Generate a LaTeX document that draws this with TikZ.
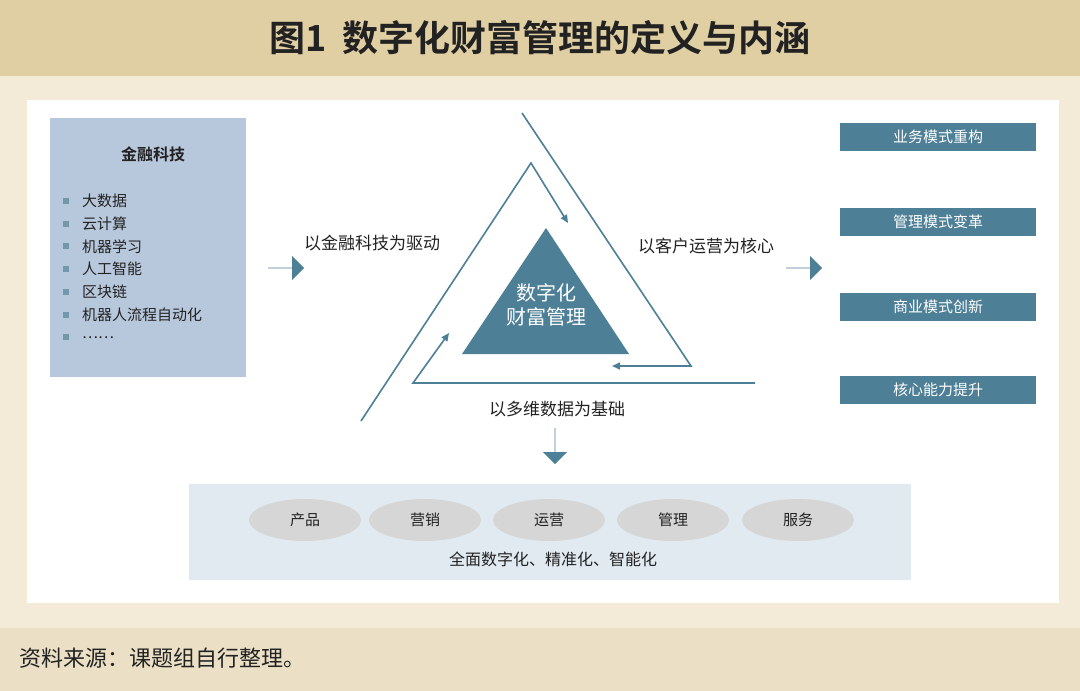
\documentclass[tikz,border=0pt]{standalone}
\usepackage{fontspec}
\setmainfont{Noto Sans CJK SC}
\newfontfamily\cjkb{Noto Sans CJK SC Bold}
\usetikzlibrary{shapes.arrows,arrows.meta}
\definecolor{tan}{HTML}{E0CFA3}
\definecolor{cream}{HTML}{F3EAD8}
\definecolor{foot}{HTML}{EBE0C6}
\definecolor{lbox}{HTML}{B8C8DC}
\definecolor{teal}{HTML}{4D7F96}
\definecolor{pale}{HTML}{E1EAF0}
\definecolor{ell}{HTML}{D6D6D6}
\definecolor{txt}{HTML}{222222}
\tikzset{
  rbox/.style={fill=teal,minimum width=196pt,minimum height=28pt,inner sep=0pt,text=white,font=\fontsize{15}{15}\selectfont},
  lab/.style={font=\fontsize{17}{17}\selectfont,text=txt},
  item/.style={anchor=west,font=\fontsize{15}{15}\selectfont,text=txt,inner sep=0pt},
  bul/.style={fill=teal!80,minimum size=6pt,inner sep=0pt},
  oval/.style={ellipse,fill=ell,minimum width=112pt,minimum height=42pt,inner sep=0pt,font=\fontsize{15}{15}\selectfont,text=txt},
  ln/.style={draw=teal,line width=1.6pt},
  ar/.style={ln,-{Triangle[length=8pt,width=7pt]}},
  blk/.style={single arrow,fill=teal,draw=none,minimum height=36pt,single arrow head extend=5pt,single arrow tip angle=90,minimum width=24pt,inner sep=0pt}
}
\usetikzlibrary{shapes.geometric}
\begin{document}
\begin{tikzpicture}[x=1pt,y=-1pt]
\useasboundingbox (0,0) rectangle (1080,691);
\fill[cream] (0,0) rectangle (1080,691);
\fill[tan] (0,0) rectangle (1080,76);
\node[font=\cjkb\fontsize{36}{36}\selectfont,text=txt] (title) at (540,38) {图1\ \ 数字化财富管理的定义与内涵};
\fill[white] (27,100) rectangle (1059,603);
\fill[foot] (0,628) rectangle (1080,691);
\node[anchor=west,font=\fontsize{22}{22}\selectfont,text=txt] (src) at (16,658) {资料来源：课题组自行整理。};
% left box
\fill[lbox] (50,118) rectangle (246,377);
\node[font=\cjkb\fontsize{16}{16}\selectfont,text=txt] (ft) at (153,154) {金融科技};
\foreach \t [count=\i] in {大数据,云计算,机器学习,人工智能,区块链,机器人流程自动化,……}{
  \node[bul] (b\i) at (66,{201+(\i-1)*22.7}) {};
  \node[item] (t\i) at (82,{201+(\i-1)*22.7}) {\t};
}
% arrows
\node[blk] (a1) at (286,268) {};
\node[blk] (a2) at (804,268) {};
\node[blk,rotate=-90] (a3) at (555,446) {};
% labels
\node[lab] (l1) at (372,243) {以金融科技为驱动};
\node[lab] (l2) at (706,246) {以客户运营为核心};
\node[lab] (l3) at (557,409) {以多维数据为基础};
% triangle lines
\coordinate (p1) at (361,421); \coordinate (p2) at (531,163); \coordinate (p3) at (568,223);
\draw[ar,line join=miter] (p1) -- (p2) -- (p3);
\coordinate (q1) at (522,113); \coordinate (q2) at (691,366); \coordinate (q3) at (612,366);
\draw[ar] (q1) -- (q2) -- (q3);
\coordinate (r1) at (755,383); \coordinate (r2) at (413,383); \coordinate (r3) at (449,333);
\draw[ar] (r1) -- (r2) -- (r3);
\fill[teal] (546,228) -- (629,354) -- (462,354) -- cycle;
\node[text=white,font=\fontsize{20}{20}\selectfont,align=center] (core) at (546,305) {数字化\\[4pt]财富管理};
% right boxes
\node[rbox] (r1b) at (938,137) {业务模式重构};
\node[rbox] (r2b) at (938,222) {管理模式变革};
\node[rbox] (r3b) at (938,307) {商业模式创新};
\node[rbox] (r4b) at (938,390) {核心能力提升};
% bottom panel
\fill[pale] (189,484) rectangle (911,580);
\foreach \t/\x [count=\i] in {产品/305,营销/425,运营/549,管理/673,服务/798}{
  \node[oval] (o\i) at (\x,520) {\t};
}
\node[font=\fontsize{16}{16}\selectfont,text=txt] (all) at (553,559) {全面数字化、精准化、智能化};
\end{tikzpicture}
\end{document}
